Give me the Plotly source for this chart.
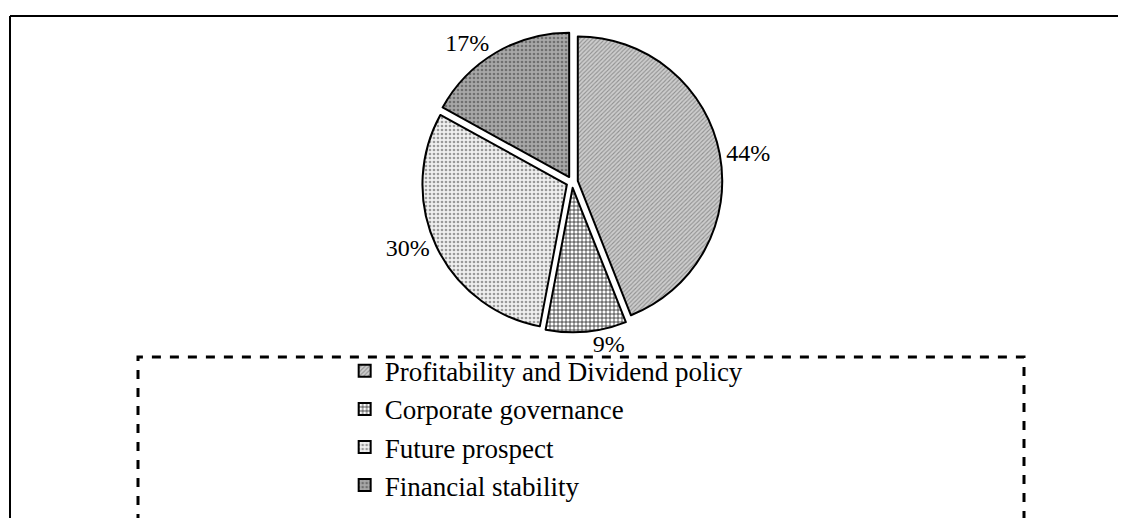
import plotly.graph_objects as go

labels = ["Profitability and Dividend policy", "Corporate governance", "Future prospect", "Financial stability"]
values = [44, 9, 30, 17]
bg_colors = ["#cdcdcd", "#ffffff", "#f0f0f0", "#a8a8a8"]
fg_colors = ["#909090", "#202020", "#9a9a9a", "#707070"]
shapes = ["/", "+", ".", "."]
sizes = [3, 4, 4, 4]

W, H = 1126, 518
OFF = 8  # page body margin


def px_x(x):
    return (x - OFF) / W


def px_y(y):
    return 1 - (y - OFF) / H


fig = go.Figure(go.Pie(
    labels=labels, values=values, sort=False, direction="clockwise", rotation=0,
    pull=[0.04] * 4,
    textinfo="percent", textposition="outside",
    textfont=dict(family="Liberation Serif", size=24, color="black"),
    marker=dict(colors=bg_colors, line=dict(color="black", width=2),
                pattern=dict(shape=shapes, fgcolor=fg_colors, bgcolor=bg_colors, size=sizes, solidity=0.35)),
    domain=dict(x=[0.3, 0.702], y=[0.374, 0.954]),
))

fig.update_layout(
    width=W, height=H, margin=dict(l=0, r=0, t=0, b=0),
    paper_bgcolor="white", plot_bgcolor="white",
    font=dict(family="Liberation Serif", color="black"),
    legend=dict(x=0.299, y=0.346, xanchor="left", yanchor="top",
                font=dict(family="Liberation Serif", size=27, color="black"),
                bgcolor="rgba(0,0,0,0)", tracegroupgap=0),
    shapes=[
        # outer frame (left and top)
        dict(type="line", xref="paper", yref="paper", x0=px_x(10), x1=1, y0=px_y(16), y1=px_y(16),
             line=dict(color="black", width=2)),
        dict(type="line", xref="paper", yref="paper", x0=px_x(10), x1=px_x(10), y0=-0.05, y1=px_y(16),
             line=dict(color="black", width=2)),
        # dashed legend box
        dict(type="rect", xref="paper", yref="paper", x0=px_x(138), x1=px_x(1024), y0=-0.05, y1=px_y(357),
             line=dict(color="black", width=3, dash="dash")),
    ],
)

fig.write_html("out.html")
